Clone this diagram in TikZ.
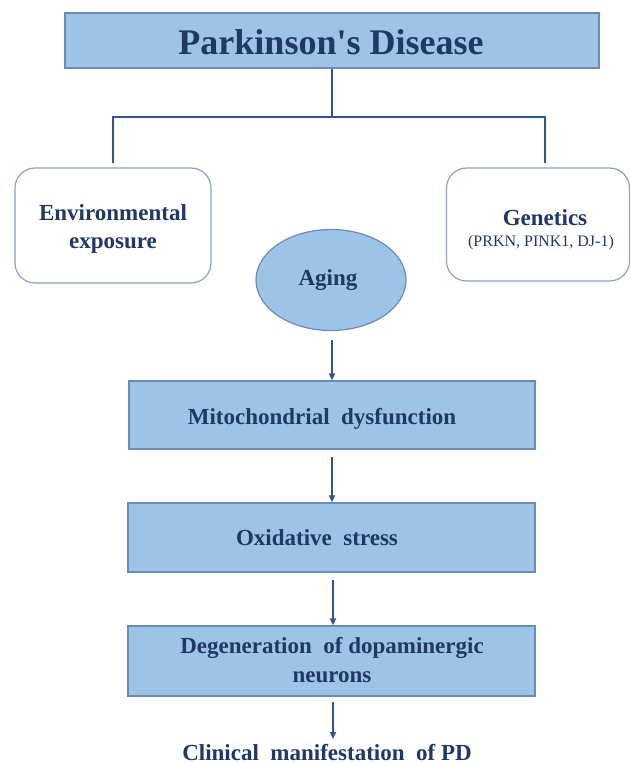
\documentclass[tikz,border=0pt]{standalone}
\usepackage{fontspec}
\setmainfont{Liberation Serif}
\usetikzlibrary{shapes.geometric,arrows.meta}
\definecolor{boxfill}{HTML}{9DC3E6}
\definecolor{boxline}{HTML}{6A8DB5}
\definecolor{navy}{HTML}{1F3864}
\definecolor{conn}{HTML}{2F5597}
\definecolor{roundline}{HTML}{8EA2BF}
\tikzset{
  bluebox/.style={draw=boxline, line width=1.2pt, fill=boxfill, inner sep=0pt},
  whitebox/.style={draw=roundline, line width=1.2pt, fill=white, rounded corners=20pt, inner sep=0pt},
  lbl/.style={text=navy, align=center, inner sep=0pt, font=\bfseries\fontsize{23}{28}\selectfont},
  bracket/.style={draw=conn, line width=2.6pt},
  flow/.style={draw=conn, line width=1.6pt, -{Triangle[length=7pt,width=6pt]}},
}
\begin{document}
\begin{tikzpicture}[x=1pt,y=-1pt]
\useasboundingbox (0,0) rectangle (631,764);
% title
\node[bluebox, minimum width=534pt, minimum height=55pt] (title) at (332,40.5) {};
\node[lbl, font=\bfseries\fontsize{36}{40}\selectfont, anchor=base] (titlet) at (331,54) {Parkinson\textquotesingle s Disease};
% side boxes
\node[whitebox, minimum width=196pt, minimum height=115pt] (env) at (113,225.5) {};
\node[lbl, anchor=base] (envt1) at (113,220) {Environmental};
\node[lbl, anchor=base] (envt2) at (113,248) {exposure};
\node[whitebox, minimum width=183pt, minimum height=113pt] (gen) at (538,224.5) {};
\node[lbl, anchor=base] (gent) at (545,225) {Genetics};
\node[lbl, font=\fontsize{16}{19}\selectfont, anchor=base] (genl) at (541,246) {(PRKN, PINK1, DJ-1)};
% aging
\node[ellipse, draw=boxline, line width=1.2pt, fill=boxfill, minimum width=150pt, minimum height=101pt, inner sep=0pt] (aging) at (331,280) {};
\node[lbl, anchor=base] (agingt) at (328,285) {Aging};
% flow boxes
\node[bluebox, minimum width=406pt, minimum height=68pt] (mito) at (332,415) {};
\node[lbl, anchor=base] (mitot) at (322,424) {Mitochondrial\ \ dysfunction};
\node[bluebox, minimum width=407pt, minimum height=69pt] (oxi) at (331.5,537.5) {};
\node[lbl, anchor=base] (oxit) at (317,545) {Oxidative\ \ stress};
\node[bluebox, minimum width=407pt, minimum height=70pt] (deg) at (331.5,661) {};
\node[lbl, anchor=base] (degt1) at (332,653) {Degeneration\ \ of dopaminergic};
\node[lbl, anchor=base] (degt2) at (332,682) {neurons};
\node[lbl, anchor=base] (clin) at (327,760) {Clinical\ \ manifestation\ \ of PD};
% connectors
\coordinate (junc) at (332,117);
\draw[bracket] (title.south -| junc) -- (junc);
\draw[bracket, line join=miter] (113,163) |- (junc) -| (545,163);
\draw[flow] (332,340) -- (mito.north);
\draw[flow] (332,457) -- (oxi.north -| 332,0);
\draw[flow] (333,580) -- (deg.north -| 333,0);
\draw[flow] (333,702) -- (333,739);
\end{tikzpicture}
\end{document}
